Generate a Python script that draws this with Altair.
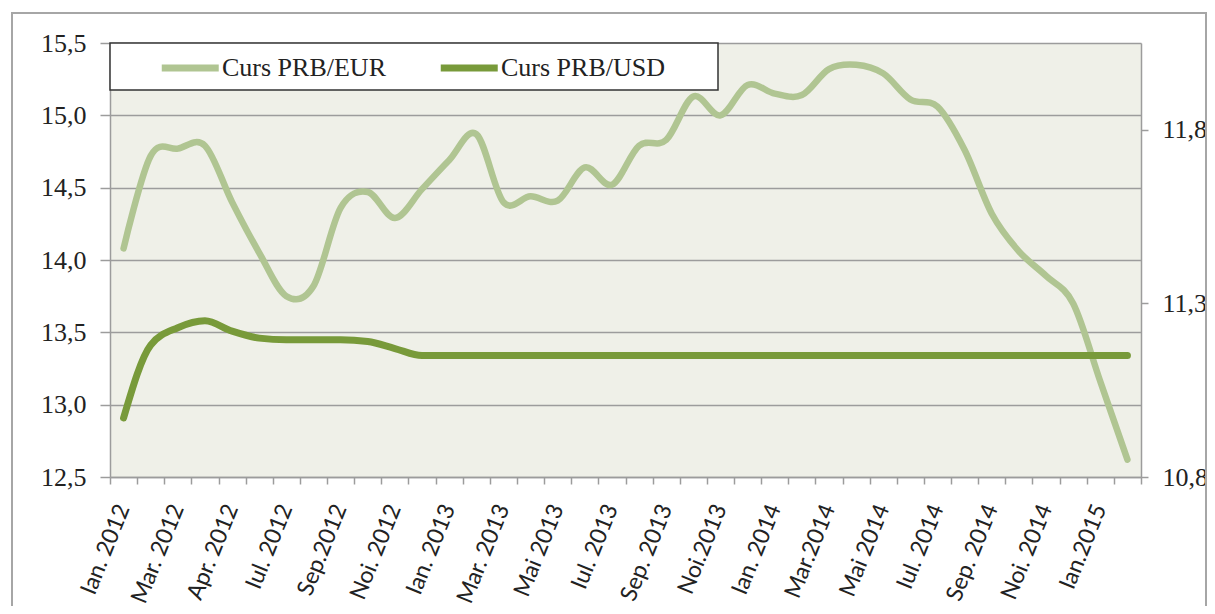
import altair as alt
import pandas as pd

# ---- data ----
x_labels = ["Ian. 2012", "Mar. 2012", "Apr. 2012", "Iul. 2012", "Sep.2012", "Noi. 2012",
            "Ian. 2013", "Mar. 2013", "Mai 2013", "Iul. 2013", "Sep. 2013", "Noi.2013",
            "Ian. 2014", "Mar.2014", "Mai 2014", "Iul. 2014", "Sep. 2014", "Noi. 2014",
            "Ian.2015"]

eur = [14.08, 14.72, 14.77, 14.79, 14.40, 14.05, 13.75, 13.82, 14.36, 14.47,
       14.29, 14.49, 14.69, 14.87, 14.40, 14.44, 14.41, 14.64, 14.52, 14.79,
       14.83, 15.13, 15.00, 15.21, 15.15, 15.14, 15.32, 15.35, 15.29, 15.11,
       15.06, 14.76, 14.32, 14.06, 13.89, 13.70, 13.16, 12.62]

usd = [10.97, 11.18, 11.23, 11.25, 11.22, 11.20, 11.195, 11.195, 11.195, 11.19,
       11.17, 11.15, 11.15, 11.15, 11.15, 11.15, 11.15, 11.15, 11.15, 11.15,
       11.15, 11.15, 11.15, 11.15, 11.15, 11.15, 11.15, 11.15, 11.15, 11.15,
       11.15, 11.15, 11.15, 11.15, 11.15, 11.15, 11.15, 11.15]

series = ["Curs PRB/EUR", "Curs PRB/USD"]
colors = ["#B0C592", "#789A3A"]

left_ticks = [12.5, 13.0, 13.5, 14.0, 14.5, 15.0, 15.5]
right_ticks = [10.8, 11.3, 11.8]

n = len(eur)
df_eur = pd.DataFrame({"pos": [i + 0.5 for i in range(n)], "v": eur, "s": series[0]})
df_usd = pd.DataFrame({"pos": [i + 0.5 for i in range(n)], "v": usd, "s": series[1]})

GRAY = "#9c9c9c"
TXT = "#222222"

label_arr = "[" + ",".join("'" + l + "'" for l in x_labels) + "]"
label_expr = ("(datum.value % 2 == 0 && datum.value / 2 < " + str(len(x_labels)) + ") ? "
              + label_arr + "[datum.value / 2] : ''")
comma_expr = "replace(format(datum.value, '.1f'), '.', ',')"

xscale = alt.Scale(domain=[0, n], nice=False, zero=False)
xaxis = alt.Axis(values=list(range(n + 1)), labelExpr=label_expr, labelAngle=292,
                 labelAlign="right", labelBaseline="middle", labelOffset=13,
                 labelPadding=21, tickSize=7, tickColor=GRAY, tickWidth=1.5,
                 domainColor=GRAY, domainWidth=1.5, grid=False, title=None,
                 labelFont="Lato", labelFontSize=23, labelColor=TXT,
                 labelOverlap=False, labelBound=False)

legend = alt.Legend(title=None, orient="none", legendX=0, legendY=0,
                    direction="horizontal", padding=7,
                    symbolType="M-1,0H3", symbolSize=812,
                    symbolStrokeWidth=7, symbolOffset=41,
                    labelFont="Liberation Serif", labelFontSize=26, labelColor=TXT,
                    labelOffset=28, columnPadding=10, labelLimit=400)

color = alt.Color("s:N", scale=alt.Scale(domain=series, range=colors), legend=legend)

left_axis = alt.Axis(orient="left", values=left_ticks, labelExpr=comma_expr, grid=True,
                     gridColor=GRAY, gridWidth=1.5, domainColor=GRAY, domainWidth=1.5,
                     tickColor=GRAY, tickWidth=1.5, tickSize=10, labelPadding=14,
                     labelFont="Liberation Serif", labelFontSize=26, labelColor=TXT,
                     title=None)
right_axis = alt.Axis(orient="right", values=right_ticks, labelExpr=comma_expr, grid=False,
                      domainColor=GRAY, domainWidth=1.5, tickColor=GRAY, tickWidth=1.5,
                      tickSize=7, labelPadding=14, labelFont="Liberation Serif",
                      labelFontSize=26, labelColor=TXT, title=None)

eur_line = alt.Chart(df_eur).mark_line(interpolate="cardinal", strokeWidth=6.5,
                                        strokeCap="round").encode(
    x=alt.X("pos:Q", scale=xscale, axis=xaxis),
    y=alt.Y("v:Q", scale=alt.Scale(domain=[12.5, 15.5], nice=False, zero=False),
            axis=left_axis),
    color=color,
)

usd_line = alt.Chart(df_usd).mark_line(interpolate="monotone", strokeWidth=7,
                                        strokeCap="round").encode(
    x=alt.X("pos:Q", scale=xscale, axis=xaxis),
    y=alt.Y("v:Q", scale=alt.Scale(domain=[10.8, 12.05], nice=False, zero=False),
            axis=right_axis),
    color=color,
)

one = pd.DataFrame({"a": [0]})
legend_box = alt.Chart(one).mark_rect(fill="white", stroke="#333333", strokeWidth=1.5).encode(
    x=alt.value(0), x2=alt.value(608), y=alt.value(0), y2=alt.value(47))

frame = alt.Chart(one).mark_rect(
    fillOpacity=0, stroke="#a6a6a6", strokeWidth=2).encode(
    x=alt.value(-98), x2=alt.value(1096), y=alt.value(-30), y2=alt.value(575))

chart = alt.layer(eur_line, usd_line, legend_box, frame).resolve_scale(
    y="independent").properties(
    width=1031, height=434,
    autosize=alt.AutoSizeParams(type="none"),
    padding={"left": 102, "top": 35, "right": 66, "bottom": 129},
).configure_view(fill="#EFF0E8", stroke=None)

chart.save("out.html", embed_options={"renderer": "svg", "actions": False})
